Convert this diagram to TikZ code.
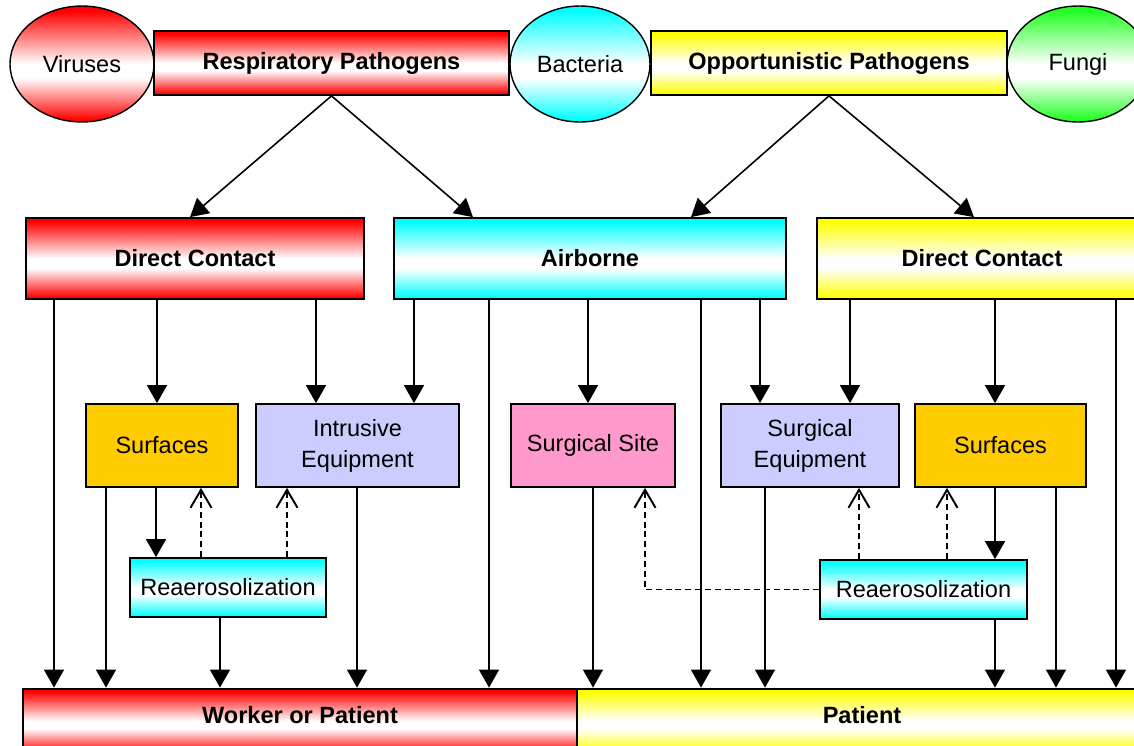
\documentclass[tikz,border=0pt]{standalone}
\usepackage{fontspec}
\setmainfont{Liberation Sans}
\usepackage{xcolor}
\usetikzlibrary{shapes.geometric,arrows.meta}

\definecolor{surforange}{HTML}{FFCC00}
\definecolor{equiplilac}{HTML}{CCCCFF}
\definecolor{sitepink}{HTML}{FF99CC}
\definecolor{fungigreen}{HTML}{22FF22}

\newcommand{\boxfont}{\fontsize{13.4}{17.6}\selectfont}

% colour - white band - colour, path sits between 25bp and 75bp
\pgfdeclareverticalshading{redband}{100bp}{color(0bp)=(red); color(26bp)=(red); color(44bp)=(white); color(50bp)=(white); color(73bp)=(red); color(100bp)=(red)}
\pgfdeclareverticalshading{cyanband}{100bp}{color(0bp)=(cyan); color(26bp)=(cyan); color(44bp)=(white); color(50bp)=(white); color(73bp)=(cyan); color(100bp)=(cyan)}
\pgfdeclareverticalshading{yellowband}{100bp}{color(0bp)=(yellow); color(26bp)=(yellow); color(44bp)=(white); color(50bp)=(white); color(73bp)=(yellow); color(100bp)=(yellow)}
\pgfdeclareverticalshading{greenband}{100bp}{color(0bp)=(fungigreen); color(26bp)=(fungigreen); color(44bp)=(white); color(50bp)=(white); color(73bp)=(fungigreen); color(100bp)=(fungigreen)}

\tikzstyle{block} = [
    rectangle,
    draw,
    line width=1pt,
    inner sep=0pt,
    align=center
    ]
\tikzstyle{heading} = [font=\boxfont\bfseries]
\tikzstyle{oval} = [
    ellipse,
    draw,
    line width=0.8pt,
    inner sep=0pt
    ]
\tikzstyle{bar} = [
    rectangle,
    draw,
    line width=1.6pt,
    inner sep=0pt,
    text height=0.35cm,
    text depth=0.25cm,
    font=\boxfont\bfseries
    ]
\tikzstyle{redfade} = [shading=redband]
\tikzstyle{cyanfade} = [shading=cyanband]
\tikzstyle{yellowfade} = [shading=yellowband]
\tikzstyle{greenfade} = [shading=greenband]
\tikzstyle{flow} = [-{Triangle[length=0.36cm,width=0.4cm]}, line width=0.9pt]
\tikzstyle{back} = [-{Straight Barb[length=0.36cm,width=0.42cm]}, line width=1.1pt, dash pattern=on 3.4pt off 2.2pt]

\begin{document}
\begin{tikzpicture}[x=0.02cm, y=-0.02cm, font=\boxfont]
        \useasboundingbox (0,0) rectangle (1134,745);

        % Pathogens
        \node (vir) [oval, redfade, minimum width=2.88cm, minimum height=2.32cm] at (82,64) {Viruses};
        \node (bac) [oval, cyanfade, minimum width=2.8cm, minimum height=2.32cm] at (580,64) {Bacteria};
        \node (fun) [oval, greenfade, minimum width=2.84cm, minimum height=2.32cm] at (1078,64) {Fungi};
        \node (resp) [block, heading, redfade, minimum width=7.1cm, minimum height=1.28cm] at (331.5,63) {Respiratory Pathogens};
        \node (opp) [block, heading, yellowfade, minimum width=7.12cm, minimum height=1.28cm] at (829,63) {Opportunistic Pathogens};

        % Routes
        \node (dcr) [block, heading, redfade, minimum width=6.76cm, minimum height=1.62cm] at (195,258.5) {Direct Contact};
        \node (air) [block, heading, cyanfade, minimum width=7.84cm, minimum height=1.62cm] at (590,258.5) {Airborne};
        \node (dcy) [block, heading, yellowfade, minimum width=6.6cm, minimum height=1.62cm] at (982,258.5) {Direct Contact};

        % Vehicles
        \node (sur1) [block, fill=surforange, minimum width=3.04cm, minimum height=1.66cm] at (162,445.5) {Surfaces};
        \node (intr) [block, fill=equiplilac, minimum width=4.06cm, minimum height=1.66cm] at (357.5,445.5) {Intrusive\\Equipment};
        \node (site) [block, fill=sitepink, minimum width=3.28cm, minimum height=1.66cm] at (593,445.5) {Surgical Site};
        \node (sequ) [block, fill=equiplilac, minimum width=3.56cm, minimum height=1.66cm] at (810,445.5) {Surgical\\Equipment};
        \node (sur2) [block, fill=surforange, minimum width=3.42cm, minimum height=1.66cm] at (1000.5,445.5) {Surfaces};
        \node (rea1) [block, cyanfade, minimum width=3.92cm, minimum height=1.18cm] at (228,587.5) {Reaerosolization};
        \node (rea2) [block, cyanfade, minimum width=4.14cm, minimum height=1.18cm] at (923.5,589.5) {Reaerosolization};

        % Hosts
        \node (wop) [bar, redfade, minimum width=11.08cm, minimum height=1.28cm] at (300,721) {Worker or Patient};
        \node (pat) [bar, yellowfade, minimum width=11.4cm, minimum height=1.28cm] at (862,721) {Patient};

        % Lines
        \draw[flow] (resp.south) -- (190,0 |- dcr.north);
        \draw[flow] (resp.south) -- (473,0 |- air.north);
        \draw[flow] (opp.south) -- (691,0 |- air.north);
        \draw[flow] (opp.south) -- (974,0 |- dcy.north);

        \draw[flow] (54,0 |- dcr.south) -- (54,0 |- wop.north);
        \draw[flow] (157,0 |- dcr.south) -- (157,0 |- sur1.north);
        \draw[flow] (316,0 |- dcr.south) -- (316,0 |- intr.north);
        \draw[flow] (414,0 |- air.south) -- (414,0 |- intr.north);
        \draw[flow] (489,0 |- air.south) -- (489,0 |- wop.north);
        \draw[flow] (588,0 |- air.south) -- (588,0 |- site.north);
        \draw[flow] (701,0 |- air.south) -- (701,0 |- pat.north);
        \draw[flow] (760,0 |- air.south) -- (760,0 |- sequ.north);
        \draw[flow] (850,0 |- dcy.south) -- (850,0 |- sequ.north);
        \draw[flow] (995,0 |- dcy.south) -- (995,0 |- sur2.north);
        \draw[flow] (1116,0 |- dcy.south) -- (1116,0 |- pat.north);

        \draw[flow] (106,0 |- sur1.south) -- (106,0 |- wop.north);
        \draw[flow] (156,0 |- sur1.south) -- (156,0 |- rea1.north);
        \draw[flow] (220,0 |- rea1.south) -- (220,0 |- wop.north);
        \draw[flow] (357,0 |- intr.south) -- (357,0 |- wop.north);
        \draw[flow] (593,0 |- site.south) -- (593,0 |- pat.north);
        \draw[flow] (765,0 |- sequ.south) -- (765,0 |- pat.north);
        \draw[flow] (995,0 |- sur2.south) -- (995,0 |- rea2.north);
        \draw[flow] (995,0 |- rea2.south) -- (995,0 |- pat.north);
        \draw[flow] (1056,0 |- sur2.south) -- (1056,0 |- pat.north);

        % Reaerosolization back to vehicles
        \draw[back] (201,0 |- rea1.north) -- (201,0 |- sur1.south);
        \draw[back] (287,0 |- rea1.north) -- (287,0 |- intr.south);
        \draw[back] (859,0 |- rea2.north) -- (859,0 |- sequ.south);
        \draw[back] (947,0 |- rea2.north) -- (947,0 |- sur2.south);
        \draw[back] (rea2.west) -| (645,0 |- site.south);

    \end{tikzpicture}
\end{document}
